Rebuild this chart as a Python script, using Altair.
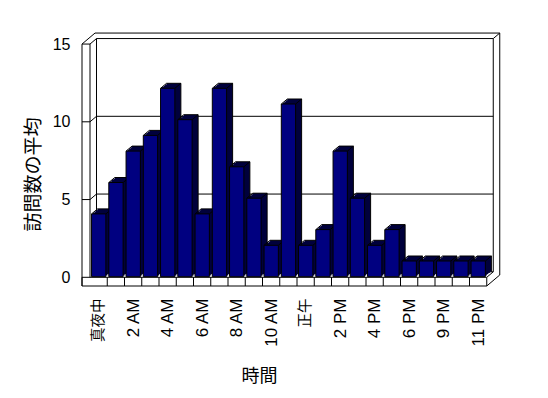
import json
import altair as alt
import pandas as pd

# ---- data ----
categories = ["真夜中", "1 AM", "2 AM", "3 AM", "4 AM", "5 AM", "6 AM", "7 AM", "8 AM",
              "9 AM", "10 AM", "11 AM", "正午", "1 PM", "2 PM", "3 PM", "4 PM", "5 PM",
              "6 PM", "8 PM", "9 PM", "10 PM", "11 PM"]
visits = [4, 6, 8, 9, 12, 10, 4, 12, 7, 5, 2, 11, 2, 3, 8, 5, 2, 3, 1, 1, 1, 1, 1]
y_ticks = [0, 5, 10, 15]
y_title = "訪問数の平均"
x_title = "時間"

n = len(categories)
ymax = 15

# ---- geometry (styles) ----
PX_X = 17.25           # px per category
XL = -8 / PX_X         # left wall thickness (in category units)
XR = (501 - 90) / PX_X
W = 419
H = 254
# frame y scale
YB, YT = -9.7 / 15.55, 244.3 / 15.55
YF = -8.7 / 15.55      # floor thickness
# bar y scale
BB, BT = -10.3 / 15.7, 243.7 / 15.7
D1 = (6.5, -5.5)
D2 = (13, -11)
BD = (6, -5)           # bar depth

CJK = "'Noto Sans CJK JP', 'Noto Sans'"
LAT = "'Liberation Sans', Arial, 'Noto Sans CJK JP'"

xscale = alt.Scale(domain=[XL, XR], nice=False, zero=False)
yscale = alt.Scale(domain=[YB, YT], nice=False, zero=False)
bscale = alt.Scale(domain=[BB, BT], nice=False, zero=False)

labels_js = json.dumps(categories, ensure_ascii=False)
xaxis = alt.Axis(
    values=[i + 0.5 for i in range(0, n, 2)],
    labelExpr=f"{labels_js}[floor(datum.value)]",
    labelAngle=270, labelPadding=11, labelFont=LAT,
    labelFontSize={"condition": {"test": "datum.value == 0.5 || datum.value == 12.5", "value": 14.5}, "value": 17},
    labelColor="black", labelOverlap=False, labelFlush=False,
    domain=False, ticks=False, tickSize=0, grid=False,
    title=x_title, titleFont=CJK, titleFontSize=18, titleFontWeight="normal",
    titleColor="black", titleX=177, titleY=89, titleAlign="center", titleBaseline="middle",
)
yaxis = alt.Axis(
    values=y_ticks, labelPadding=12, labelFont=LAT, labelFontSize=16, labelColor="black",
    labelFlush=False, domain=False, ticks=False, tickSize=0, grid=False,
    title=y_title, titleFont=CJK, titleFontSize=19, titleFontWeight="normal",
    titleColor="black", titleX=-49, titleY=141, titleAngle=270,
    titleAlign="center", titleBaseline="middle",
)


def X(f):
    return alt.X(f, type="quantitative", scale=xscale, axis=xaxis)


def Y(f):
    return alt.Y(f, type="quantitative", scale=yscale, axis=yaxis)


def BY(f):
    return alt.Y(f, type="quantitative", scale=bscale, axis=None)


def rules(segs, o1=(0, 0), o2=(0, 0)):
    df = pd.DataFrame(segs, columns=["x", "x2", "y", "y2"])
    return alt.Chart(df).mark_rule(
        color="black", strokeWidth=1,
        xOffset=o1[0], yOffset=o1[1], x2Offset=o2[0], y2Offset=o2[1],
    ).encode(x=X("x"), x2="x2", y=Y("y"), y2="y2")


front_segs = [(XL, XL, YF, ymax), (0, 0, 0, ymax), (XL, 0, ymax, ymax)] + \
             [(XL, 0, t, t) for t in y_ticks[1:-1]]
d1_segs = [(0, 0, 0, ymax), (0, n, ymax, ymax), (n, n, 0, ymax), (0, n, 0, 0)] + \
          [(0, n, t, t) for t in y_ticks[1:-1]]
d2_segs = [(XL, n, ymax, ymax), (n, n, YF, ymax)]
f_d1 = [(0, 0, ymax, ymax), (n, n, 0, 0)] + [(0, 0, t, t) for t in y_ticks[1:-1]]
f_d2 = [(XL, XL, ymax, ymax), (n, n, YF, YF)]
d1_d2 = [(n, n, ymax, ymax)]

floor_df = pd.DataFrame({"x": [XL], "x2": [n], "y": [YF], "y2": [0]})
floor = alt.Chart(floor_df).mark_rect(fill="white", stroke="black", strokeWidth=1).encode(
    x=X("x"), x2="x2", y=Y("y"), y2="y2")
div_segs = [(i, i, YF, 0) for i in range(1, n)]

frame = alt.layer(
    rules(d1_segs, D1, D1),
    rules(d2_segs, D2, D2),
    rules(f_d1, (0, 0), D1),
    rules(f_d2, (0, 0), D2),
    rules(d1_d2, D1, D2),
    floor,
    rules(div_segs),
    rules(front_segs),
)

bars_df = pd.DataFrame({"cat": categories, "v": visits})
bars_df["i"] = range(n)
bars_df["x0"] = bars_df["i"] + 0.09
bars_df["x1"] = bars_df["i"] + 0.92
bars_df["base"] = 0

bar_layers = []
for k in [4, 3, 2, 1]:
    dx, dy = BD[0] * k / 4, BD[1] * k / 4
    bar_layers.append(
        alt.Chart(bars_df).mark_rect(
            fill="#00003c", xOffset=dx, x2Offset=dx, yOffset=dy, y2Offset=dy
        ).encode(x=X("x0"), x2="x1", y=BY("v"), y2="base")
    )


def bar_edge(xa, xb, ya, yb, o1, o2):
    return alt.Chart(bars_df).mark_rule(
        color="black", strokeWidth=1,
        xOffset=o1[0], yOffset=o1[1], x2Offset=o2[0], y2Offset=o2[1],
    ).encode(x=X(xa), x2=xb, y=BY(ya), y2=yb)


bar_layers += [
    bar_edge("x0", "x0", "v", "v", (0, 0), BD),   # top-left diagonal
    bar_edge("x1", "x1", "v", "v", (0, 0), BD),   # top-right diagonal
    bar_edge("x0", "x1", "v", "v", BD, BD),       # back top edge
    bar_edge("x1", "x1", "v", "base", BD, BD),    # back right edge
]
bar_layers.append(
    alt.Chart(bars_df).mark_rect(fill="#000080", stroke="black", strokeWidth=1).encode(
        x=X("x0"), x2="x1", y=BY("v"), y2="base",
        tooltip=["cat", "v"])
)
bars = alt.layer(*bar_layers)

chart = alt.layer(frame, bars).resolve_scale(y="independent").properties(
    width=W, height=H, autosize="none",
    padding={"left": 74, "top": 25, "right": 39, "bottom": 103},
    background="white",
).configure_view(strokeWidth=0)

chart.save("out.html", embed_options={"renderer": "svg", "actions": False})
